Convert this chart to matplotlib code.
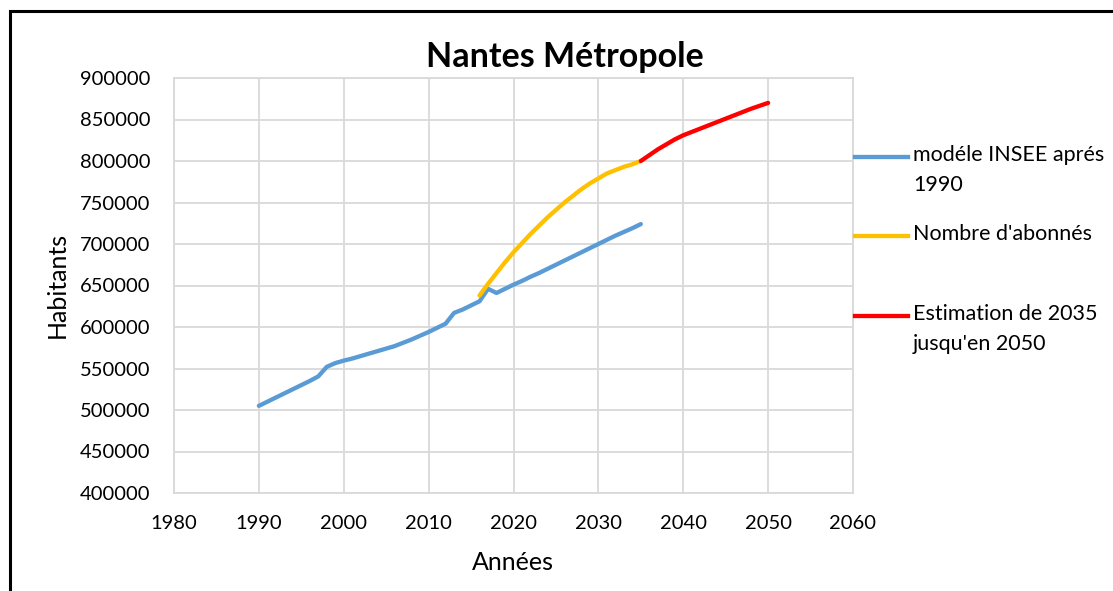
import matplotlib.pyplot as plt
from matplotlib.lines import Line2D
from matplotlib.patches import Rectangle

plt.rcParams['font.family'] = ['Lato', 'DejaVu Sans']

# modèle INSEE après 1990
insee_years = list(range(1990, 2036))
insee_values = [505000, 510000, 515000, 520000, 525000, 530000, 535000, 540500,
                552000, 556500, 559500, 562000, 565000, 568000, 571000, 574000,
                577000, 581000, 585000, 589500, 594000, 599000, 604000, 617000,
                621000, 626000, 631000, 646000, 641000, 646000, 651000, 655500,
                660500, 665000, 670000, 675000, 680000, 685000, 690000, 695000,
                700000, 705000, 710000, 714500, 719000, 724000]

# nombre d'abonnés
abo_years = list(range(2016, 2036))
abo_values = [638000, 652000, 665000, 678000, 690000, 701000, 712000, 722000,
              732000, 741000, 750000, 758000, 766000, 773000, 779000, 785000,
              789000, 793000, 796000, 800000]

# estimation 2035 -> 2050
est_years = list(range(2035, 2051))
est_values = [800000, 807000, 814000, 820000, 826000, 831000, 835000, 839000,
              843000, 847000, 851000, 855000, 859000, 863000, 866500, 870000]

labels = ["modéle INSEE aprés\n1990", "Nombre d'abonnés", "Estimation de 2035\njusqu'en 2050"]
colors = ["#5B9BD5", "#FFC000", "#FF0000"]

W, H = 1113, 591
fig = plt.figure(figsize=(W / 100, H / 100), dpi=100)
ax = fig.add_axes([174 / W, 1 - 493 / H, 679 / W, 415 / H])

ax.plot(insee_years, insee_values, color=colors[0], lw=3.1, solid_capstyle='round')
ax.plot(abo_years, abo_values, color=colors[1], lw=3.1, solid_capstyle='round')
ax.plot(est_years, est_values, color=colors[2], lw=3.1, solid_capstyle='round')

ax.set_xlim(1980, 2060)
ax.set_ylim(400000, 900000)
ax.set_xticks(range(1980, 2061, 10))
ax.set_yticks(range(400000, 900001, 50000))
ax.grid(True, color="#d9d9d9", lw=1.3)
ax.set_axisbelow(True)
for s in ax.spines.values():
    s.set_color("#d9d9d9")
    s.set_linewidth(1.3)
ax.tick_params(length=0, labelsize=14.5, pad=16)
ax.tick_params(axis='y', pad=17)

# titre et libellés des axes
fig.text(565 / W, 1 - 57 / H, "Nantes Métropole", fontsize=24.5, fontweight='bold',
         ha='center', va='center')
fig.text(513 / W, 1 - 563 / H, "Années", fontsize=18, ha='center', va='center')
fig.text(57 / W, 1 - 285 / H, "Habitants", fontsize=18, rotation=90,
         ha='center', va='center')

# légende à droite
legend_rows = [157, 236, 316]
for y, lab, c in zip(legend_rows, labels, colors):
    yf = 1 - y / H
    fig.add_artist(Line2D([855 / W, 908 / W], [yf, yf], color=c, lw=3.1,
                          transform=fig.transFigure))
    fig.text(913 / W, yf + 12 / H, lab, fontsize=15.5, va='top', ha='left',
             linespacing=1.6)

# cadre noir
fig.add_artist(Rectangle((10 / W, -0.05), 1.2, 1 - 11.5 / H + 0.05,
                         transform=fig.transFigure, fill=False,
                         edgecolor='black', lw=2.2))

fig.savefig("out.png", dpi=100)
